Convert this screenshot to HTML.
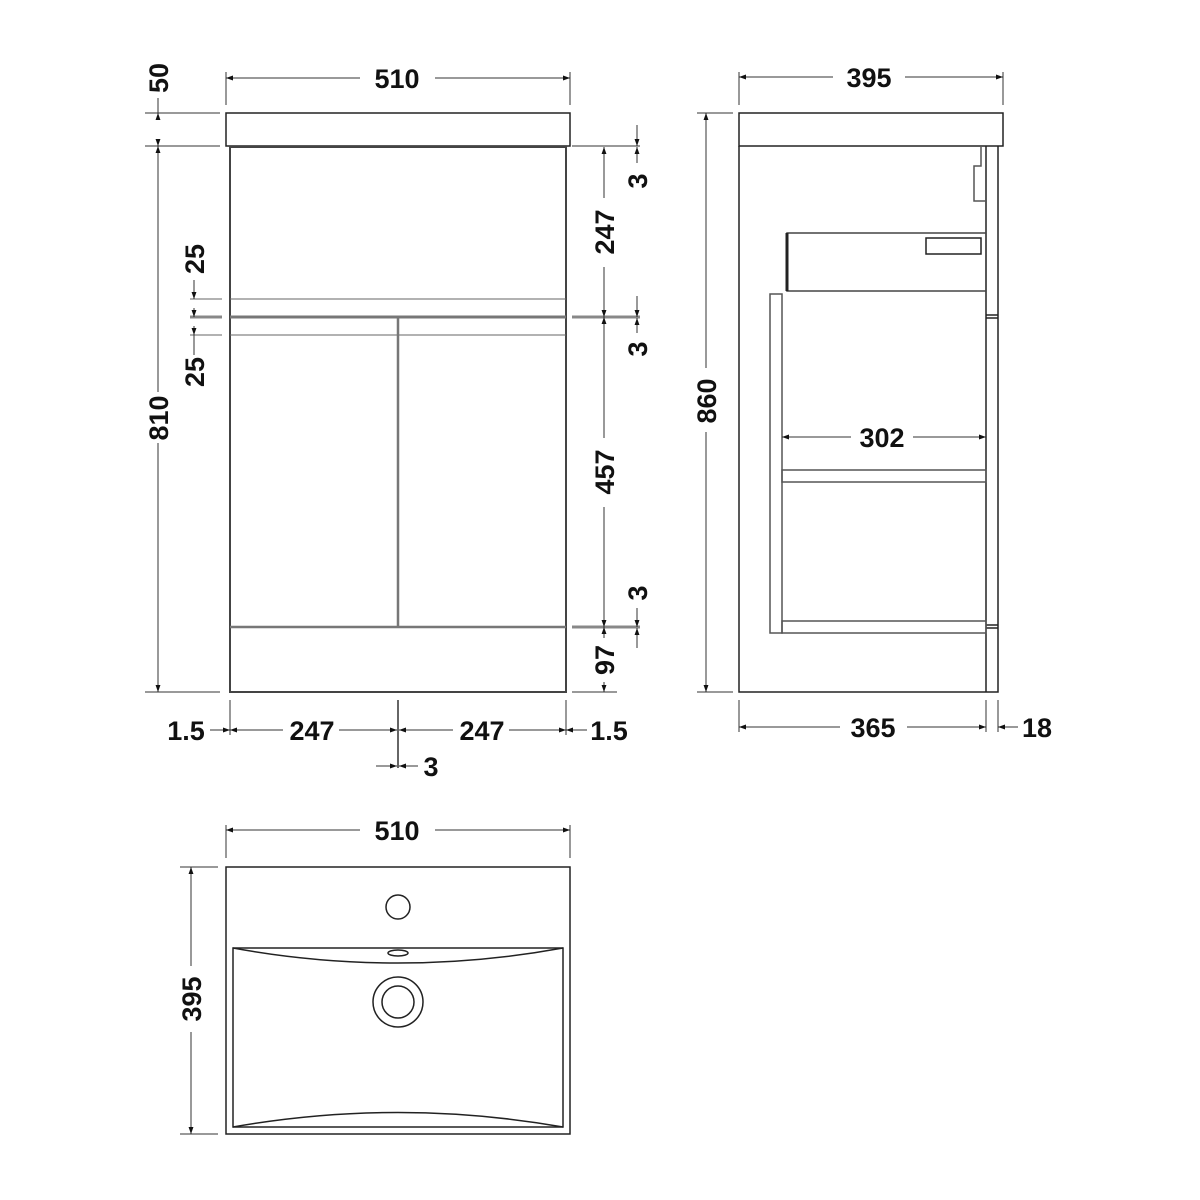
<!DOCTYPE html>
<html><head><meta charset="utf-8"><style>
html,body{margin:0;padding:0;background:#fff;}
svg{display:block;}
text{font-family:"Liberation Sans",sans-serif;font-weight:bold;font-size:27px;fill:#111;}
</style></head><body>
<svg width="1200" height="1200" viewBox="0 0 1200 1200" xmlns="http://www.w3.org/2000/svg">
<defs>
<marker id="a" viewBox="0 0 10 10" refX="10" refY="5" markerWidth="9" markerHeight="7" orient="auto-start-reverse" markerUnits="userSpaceOnUse">
<path d="M0,1.5 L10,5 L0,8.5 z" fill="#111"/></marker>
</defs>
<g fill="none" stroke="#222" stroke-width="1.5">
<rect x="226" y="113" width="344" height="33"/>
<rect x="230" y="147" width="336" height="545" stroke="#444" stroke-width="2"/>
<line x1="230" y1="299" x2="566" y2="299" stroke="#666" stroke-width="1"/>
<line x1="230" y1="317" x2="566" y2="317" stroke="#777" stroke-width="3"/>
<line x1="230" y1="335" x2="566" y2="335" stroke="#666" stroke-width="1"/>
<line x1="398" y1="317" x2="398" y2="627" stroke="#777" stroke-width="2.5"/>
<line x1="230" y1="627" x2="566" y2="627" stroke="#777" stroke-width="2.5"/>
</g>
<g stroke="#333" stroke-width="1" fill="none">
<line x1="226" y1="72" x2="226" y2="105"/><line x1="570" y1="72" x2="570" y2="105"/>
<line x1="226" y1="78" x2="360" y2="78" marker-start="url(#a)"/>
<line x1="435" y1="78" x2="570" y2="78" marker-end="url(#a)"/>
<line x1="145" y1="113" x2="220" y2="113"/><line x1="145" y1="146" x2="220" y2="146"/>
<line x1="158" y1="98" x2="158" y2="113" />
<line x1="158" y1="120" x2="158" y2="113" marker-end="url(#a)"/>
<line x1="158" y1="140" x2="158" y2="146" marker-end="url(#a)"/>
<line x1="158" y1="146" x2="158" y2="392" marker-start="url(#a)"/>
<line x1="158" y1="443" x2="158" y2="692" marker-end="url(#a)"/>
<line x1="145" y1="692" x2="220" y2="692"/>
<line x1="190" y1="299" x2="222" y2="299" stroke="#666"/>
<line x1="190" y1="317" x2="222" y2="317" stroke="#888" stroke-width="3"/>
<line x1="190" y1="335" x2="222" y2="335" stroke="#666"/>
<line x1="194" y1="280" x2="194" y2="299" marker-end="url(#a)"/>
<line x1="194" y1="308" x2="194" y2="317" marker-end="url(#a)"/>
<line x1="194" y1="326" x2="194" y2="335" marker-end="url(#a)"/>
<line x1="194" y1="355" x2="194" y2="335"/>
<line x1="572" y1="146" x2="640" y2="146"/>
<line x1="572" y1="317" x2="640" y2="317" stroke="#888" stroke-width="3"/>
<line x1="572" y1="627" x2="640" y2="627" stroke="#888" stroke-width="3"/>
<line x1="572" y1="692" x2="617" y2="692"/>
<line x1="604" y1="198" x2="604" y2="147" marker-end="url(#a)"/>
<line x1="604" y1="267" x2="604" y2="317" marker-end="url(#a)"/>
<line x1="604" y1="438" x2="604" y2="317" marker-end="url(#a)"/>
<line x1="604" y1="507" x2="604" y2="627" marker-end="url(#a)"/>
<line x1="604" y1="638" x2="604" y2="627" marker-end="url(#a)"/>
<line x1="604" y1="682" x2="604" y2="692" marker-end="url(#a)"/>
<line x1="637" y1="125" x2="637" y2="146" marker-end="url(#a)"/>
<line x1="637" y1="163" x2="637" y2="147" marker-end="url(#a)"/>
<line x1="637" y1="296" x2="637" y2="317" marker-end="url(#a)"/>
<line x1="637" y1="333" x2="637" y2="318" marker-end="url(#a)"/>
<line x1="637" y1="608" x2="637" y2="627" marker-end="url(#a)"/>
<line x1="637" y1="648" x2="637" y2="628" marker-end="url(#a)"/>
<line x1="230" y1="700" x2="230" y2="735"/>
<line x1="398" y1="700" x2="398" y2="768" stroke="#666" stroke-width="2"/>
<line x1="566" y1="700" x2="566" y2="735"/>
<line x1="210" y1="730" x2="230" y2="730" marker-end="url(#a)"/>
<line x1="283" y1="730" x2="230" y2="730" marker-end="url(#a)"/>
<line x1="339" y1="730" x2="397" y2="730" marker-end="url(#a)"/>
<line x1="453" y1="730" x2="399" y2="730" marker-end="url(#a)"/>
<line x1="509" y1="730" x2="566" y2="730" marker-end="url(#a)"/>
<line x1="587" y1="730" x2="566" y2="730" marker-end="url(#a)"/>
<line x1="376" y1="766" x2="397" y2="766" marker-end="url(#a)"/>
<line x1="418" y1="766" x2="399" y2="766" marker-end="url(#a)"/>
</g>
<g>
<text x="397" y="88" text-anchor="middle">510</text>
<text transform="translate(168,78) rotate(-90)" text-anchor="middle">50</text>
<text transform="translate(168,418) rotate(-90)" text-anchor="middle">810</text>
<text transform="translate(204,259) rotate(-90)" text-anchor="middle">25</text>
<text transform="translate(204,372) rotate(-90)" text-anchor="middle">25</text>
<text transform="translate(614,232) rotate(-90)" text-anchor="middle">247</text>
<text transform="translate(614,472) rotate(-90)" text-anchor="middle">457</text>
<text transform="translate(614,660) rotate(-90)" text-anchor="middle">97</text>
<text transform="translate(647,181) rotate(-90)" text-anchor="middle">3</text>
<text transform="translate(647,349) rotate(-90)" text-anchor="middle">3</text>
<text transform="translate(647,593) rotate(-90)" text-anchor="middle">3</text>
<text x="186" y="740" text-anchor="middle">1.5</text>
<text x="312" y="740" text-anchor="middle">247</text>
<text x="482" y="740" text-anchor="middle">247</text>
<text x="609" y="740" text-anchor="middle">1.5</text>
<text x="431" y="776" text-anchor="middle">3</text>
</g>
<g fill="none" stroke="#222" stroke-width="1.5">
<rect x="739" y="113" width="264" height="33"/>
<polyline points="739,146 739,692 998,692 998,146"/>
<line x1="986" y1="146" x2="986" y2="692"/>
<line x1="986" y1="315" x2="998" y2="315"/><line x1="986" y1="318" x2="998" y2="318"/>
<line x1="986" y1="625" x2="998" y2="625"/><line x1="986" y1="628" x2="998" y2="628"/>
<polyline points="981,146 981,166 974,166 974,201 986,201" stroke="#555"/>
<rect x="787" y="233" width="199" height="58" stroke="#444"/>
<line x1="787" y1="233" x2="787" y2="291" stroke-width="3"/>
<rect x="926" y="238" width="55" height="16"/>
<rect x="770" y="294" width="12" height="339" stroke="#555"/>
<rect x="782" y="470" width="204" height="12" stroke="#555"/>
<rect x="782" y="621" width="204" height="12" stroke="#555"/>
</g>
<g stroke="#333" stroke-width="1" fill="none">
<line x1="739" y1="72" x2="739" y2="105"/><line x1="1003" y1="72" x2="1003" y2="105"/>
<line x1="739" y1="77" x2="833" y2="77" marker-start="url(#a)"/>
<line x1="905" y1="77" x2="1003" y2="77" marker-end="url(#a)"/>
<line x1="697" y1="113" x2="733" y2="113"/><line x1="697" y1="692" x2="733" y2="692"/>
<line x1="706" y1="113" x2="706" y2="368" marker-start="url(#a)"/>
<line x1="706" y1="432" x2="706" y2="692" marker-end="url(#a)"/>
<line x1="739" y1="700" x2="739" y2="732"/><line x1="986" y1="700" x2="986" y2="732"/><line x1="998" y1="700" x2="998" y2="732"/>
<line x1="739" y1="727" x2="840" y2="727" marker-start="url(#a)"/>
<line x1="907" y1="727" x2="986" y2="727" marker-end="url(#a)"/>
<line x1="1018" y1="727" x2="998" y2="727" marker-end="url(#a)"/>
<line x1="782" y1="437" x2="851" y2="437" marker-start="url(#a)"/>
<line x1="913" y1="437" x2="986" y2="437" marker-end="url(#a)"/>
</g>
<g>
<text x="869" y="87" text-anchor="middle">395</text>
<text transform="translate(716,401) rotate(-90)" text-anchor="middle">860</text>
<text x="873" y="737" text-anchor="middle">365</text>
<text x="1037" y="737" text-anchor="middle">18</text>
<text x="882" y="447" text-anchor="middle">302</text>
</g>
<g fill="none" stroke="#222" stroke-width="1.5">
<rect x="226" y="867" width="344" height="267"/>
<rect x="233" y="948" width="330" height="179"/>
<path d="M233,948 Q398,978 563,948"/>
<path d="M233,1127 Q398,1098 563,1127"/>
<circle cx="398" cy="907" r="12"/>
<ellipse cx="398" cy="953" rx="10" ry="3"/>
<circle cx="398" cy="1002" r="25"/>
<circle cx="398" cy="1002" r="16"/>
</g>
<g stroke="#333" stroke-width="1" fill="none">
<line x1="226" y1="825" x2="226" y2="858"/><line x1="570" y1="825" x2="570" y2="858"/>
<line x1="226" y1="830" x2="360" y2="830" marker-start="url(#a)"/>
<line x1="435" y1="830" x2="570" y2="830" marker-end="url(#a)"/>
<line x1="180" y1="867" x2="218" y2="867"/><line x1="180" y1="1134" x2="218" y2="1134"/>
<line x1="191" y1="867" x2="191" y2="966" marker-start="url(#a)"/>
<line x1="191" y1="1032" x2="191" y2="1134" marker-end="url(#a)"/>
</g>
<text x="397" y="840" text-anchor="middle">510</text>
<text transform="translate(201,999) rotate(-90)" text-anchor="middle">395</text>
</svg>
</body></html>
